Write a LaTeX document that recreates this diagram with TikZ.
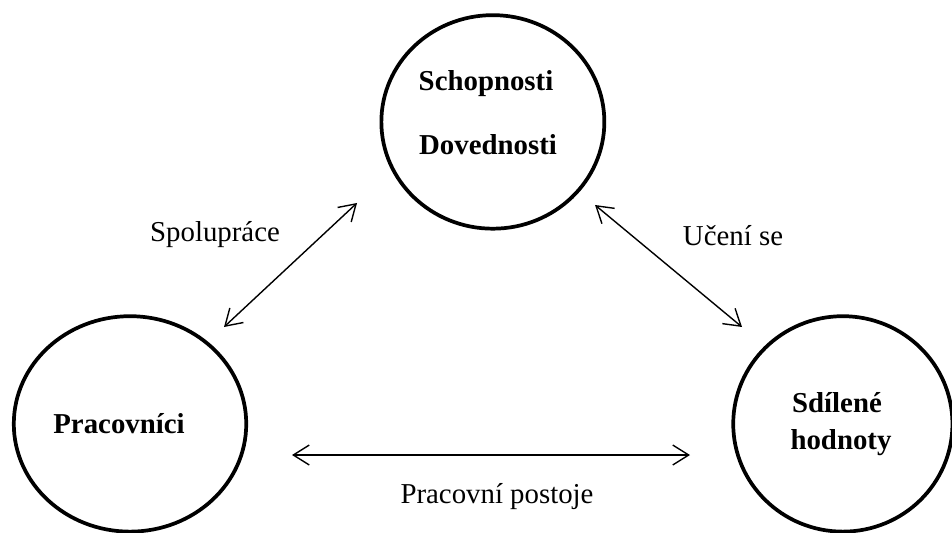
\documentclass[tikz,border=0pt]{standalone}
\usepackage{fontspec}
\setmainfont{Liberation Serif}
\usepackage{xcolor}
\usetikzlibrary{shapes.geometric,arrows.meta}
\colorlet{ring edge}{black}
\colorlet{link line}{black}
\def\labelsize{\fontsize{21.7}{26}\selectfont}
\tikzset{ring/.style={ellipse, draw=ring edge, line width=2.8pt, inner sep=0pt},
    heading/.style={font=\labelsize\bfseries, anchor=base, inner sep=0pt},
    tag/.style={font=\labelsize, anchor=base, inner sep=0pt},
    link/.style={draw=link line, line width=1.05pt,
        {Straight Barb[length=12pt,width=15pt]}-{Straight Barb[length=12pt,width=15pt]}}}

\begin{document}
\begin{tikzpicture}
    \useasboundingbox (0,0) rectangle (25.188,14.076);
    \node[ring, minimum width=5.9cm,  minimum height=5.65cm] (skills)  at (13.04,10.85) {};
    \node[ring, minimum width=6.15cm, minimum height=5.7cm] (workers) at (3.44,2.86) {};
    \node[ring, minimum width=5.8cm,  minimum height=5.7cm] (values)  at (22.30,2.86) {};
    \node[heading] (skillsA) at (12.859,11.694) {Schopnosti};
    \node[heading] (skillsB) at (12.912,10.001) {Dovednosti};
    \node[heading] (workersA) at (3.149,2.619) {Pracovníci};
    \node[heading] (valuesA) at (22.145,3.175) {Sdílené};
    \node[heading] (valuesB) at (22.251,2.170) {hodnoty};
    % arrow ends
    \coordinate (coopTop) at (9.446,8.705);
    \coordinate (coopEnd) at (5.927,5.424);
    \coordinate (learnTop) at (15.743,8.652);
    \coordinate (learnEnd) at (19.632,5.424);
    \coordinate (postLeft) at (7.726,2.037);
    \coordinate (postRight) at (18.256,2.037);
    \draw[link] (coopTop) -- (coopEnd);
    \draw[link] (learnTop) -- (learnEnd);
    \draw[link] (postLeft) -- (postRight);
    \node[tag] (coop) at (5.689,7.673) {Spolupráce};
    \node[tag] (learn) at (19.394,7.593) {Učení se};
    \node[tag] (post) at (13.150,0.767) {Pracovní postoje};
\end{tikzpicture}
\end{document}
